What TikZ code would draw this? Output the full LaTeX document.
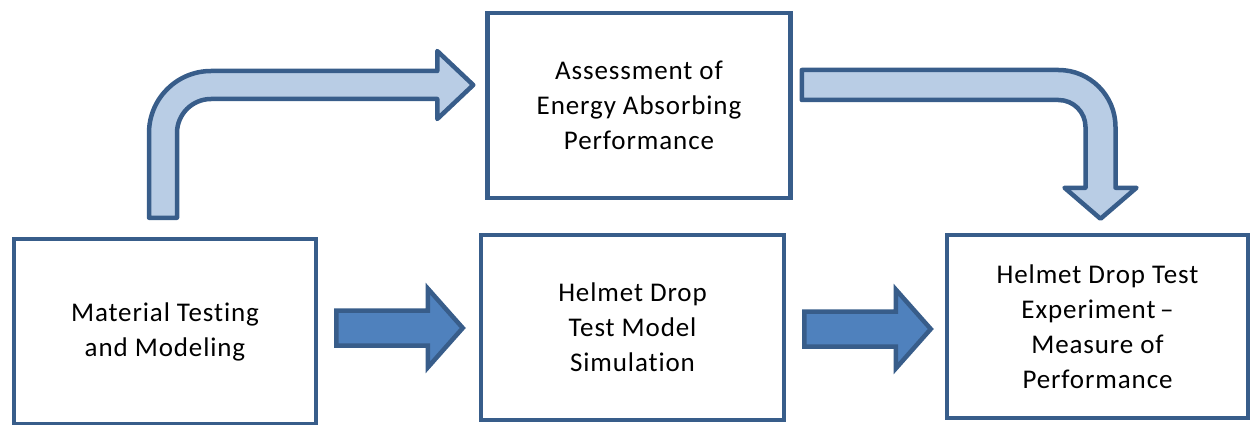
\documentclass[tikz,border=0pt]{standalone}
\usepackage{fontspec}
\setmainfont{Carlito}[Ligatures=NoCommon, LetterSpace=3.3]
\usetikzlibrary{calc}

\definecolor{edgeblue}{HTML}{385D8A}
\definecolor{lightfill}{HTML}{B9CDE5}
\definecolor{darkfill}{HTML}{4F81BD}

\begin{document}
\begin{tikzpicture}[x=1pt,y=-1pt,
  stagebox/.style={draw=edgeblue, line width=4.5pt, fill=white,
    minimum width=303pt, minimum height=185pt, inner sep=0pt,
    align=center, font=\fontsize{27}{35}\selectfont},
  bentarrow/.style={draw=edgeblue, line width=4.5pt, fill=lightfill, line join=round},
  straightarrow/.style={draw=edgeblue, line width=4.5pt, fill=darkfill, line join=miter}
]
\useasboundingbox (0,0) rectangle (1252,425);

% process stages
\node[stagebox, minimum width=302pt] (mat) at (165,331.5) {Material Testing\\and Modeling};
\node[stagebox] (assess) at (639,105.5) {Assessment of\\Energy Absorbing\\Performance};
\node[stagebox] (sim) at (632.5,327.5) {Helmet Drop\\Test Model\\Simulation};
\node[stagebox, minimum width=301pt, minimum height=183pt] (exp) at (1097.5,326.5)
  {Helmet Drop Test\\Experiment\,--\\Measure of\\Performance};

% end points of the block arrows
\coordinate (s1) at ($(mat.north)+(-2,-19)$);
\coordinate (t1) at ($(assess.west)+(-12,-20.5)$);
\coordinate (s2) at ($(assess.east)+(9,-20.5)$);
\coordinate (t2) at ($(exp.north)+(3,-14)$);
\coordinate (s3) at ($(mat.east)+(18,0)$);
\coordinate (t3) at ($(sim.west)+(-16,0.5)$);
\coordinate (s4) at ($(sim.east)+(18,0)$);
\coordinate (t4) at ($(exp.west)+(-14,2.5)$);

% bent arrow: material testing -> assessment
\draw[bentarrow] let \p1=(s1), \p2=(t1) in
  (\x1-14pt,\y1) -- (\x1-14pt,\y2-48pt)
  arc[start angle=180, end angle=90, radius=62pt]
  -- (\x2-36pt,\y2+14pt) -- (\x2-36pt,\y2+34pt) -- (\x2,\y2)
  -- (\x2-36pt,\y2-34pt) -- (\x2-36pt,\y2-14pt) -- (\x1+48pt,\y2-14pt)
  arc[start angle=90, end angle=180, radius=34pt]
  -- (\x1+14pt,\y1) -- cycle;

% bent arrow: assessment -> experiment
\draw[bentarrow] let \p1=(s2), \p2=(t2) in
  (\x1,\y1+15pt) -- (\x2-42pt,\y1+15pt)
  arc[start angle=90, end angle=0, radius=57pt]
  -- (\x2+15pt,\y2+31pt) -- (\x2+36pt,\y2+31pt) -- (\x2,\y2)
  -- (\x2-36pt,\y2+31pt) -- (\x2-15pt,\y2+31pt) -- (\x2-15pt,\y1-42pt)
  arc[start angle=0, end angle=90, radius=27pt]
  -- (\x1,\y1-15pt) -- cycle;

% straight arrows along the bottom row
\draw[straightarrow] let \p1=(s3), \p2=(t3) in
  (\x1,\y2+17.5pt) -- (\x2-35pt,\y2+17.5pt) -- (\x2-35pt,\y2+39.5pt) -- (\x2,\y2)
  -- (\x2-35pt,\y2-39.5pt) -- (\x2-35pt,\y2-17.5pt) -- (\x1,\y2-17.5pt) -- cycle;
\draw[straightarrow] let \p1=(s4), \p2=(t4) in
  (\x1,\y2+17.5pt) -- (\x2-35pt,\y2+17.5pt) -- (\x2-35pt,\y2+39.5pt) -- (\x2,\y2)
  -- (\x2-35pt,\y2-39.5pt) -- (\x2-35pt,\y2-17.5pt) -- (\x1,\y2-17.5pt) -- cycle;
\end{tikzpicture}
\end{document}
